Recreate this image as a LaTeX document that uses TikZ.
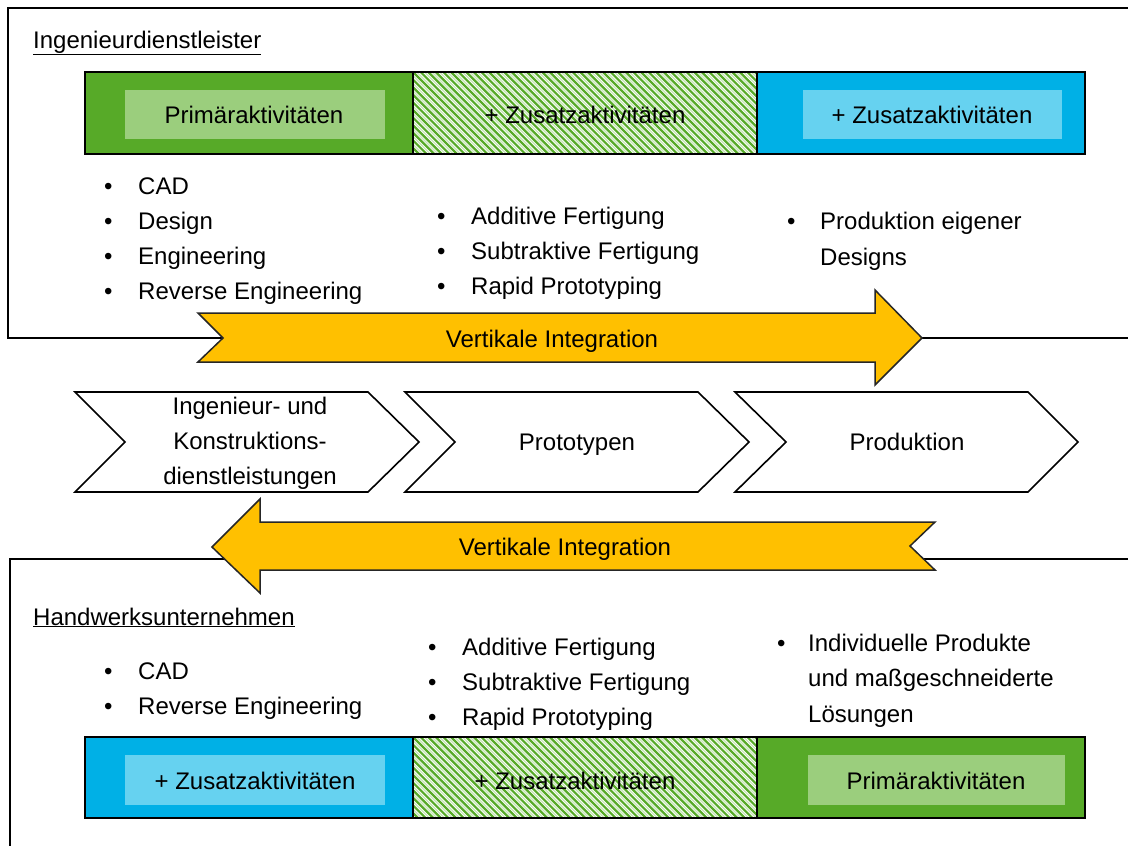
\documentclass[tikz,border=0pt]{standalone}
\usepackage{fontspec}
\setmainfont{Liberation Sans}
\definecolor{grn}{RGB}{87,170,40}
\definecolor{lgrn}{RGB}{155,206,125}
\definecolor{hgrn}{RGB}{200,230,185}
\definecolor{blu}{RGB}{0,176,230}
\definecolor{lblu}{RGB}{102,210,240}
\definecolor{gold}{RGB}{255,192,0}
\begin{document}
\begin{tikzpicture}[x=1pt,y=-1pt,
  txt/.style={inner sep=0pt,font=\fontsize{24}{35}\selectfont},
  ltxt/.style={txt,anchor=base west},
  framel/.style={line width=2pt,draw=black},
  barbox/.style={line width=2pt,draw=black},
  chev/.style={line width=1.6pt,draw=black,fill=white,line join=miter},
  bigarrow/.style={line width=1.5pt,draw=black!85,fill=gold,line join=miter},
  bul/.style={ltxt},
  hatchd/.style={grn,line width=2.2pt},
  hatchl/.style={hgrn,line width=1.2pt},
]
\useasboundingbox (0,0) rectangle (1128,846);
\fill[white] (0,0) rectangle (1128,846);
% frames
\draw[framel] (1130,8) -- (8,8) -- (8,338) -- (1130,338);
\draw[framel] (1130,559) -- (10,559) -- (10,848);
% headings
\node[ltxt] (h1) at (33,48) {\underline{Ingenieurdienstleister}};
\node[ltxt] (h2) at (33,625) {\underline{Handwerksunternehmen}};

% ---- top bar
\fill[grn] (85,72) rectangle (413,154);
\fill[lgrn] (125,90) rectangle (385,139);
\begin{scope}
  \clip (413,72) rectangle (757,154);
  \foreach \i in {-12,...,47} {
    \draw[hatchl] (413+\i*7.6+3.8,72) -- ++(82,82);
    \draw[hatchd] (413+\i*7.6,72) -- ++(82,82);
  }
\end{scope}
\fill[blu] (757,72) rectangle (1085,154);
\fill[lblu] (803,90) rectangle (1062,139);
\draw[barbox] (85,72) rectangle (1085,154);
\draw[barbox] (413,72) -- (413,154);
\draw[barbox] (757,72) -- (757,154);
\node[txt] (t1) at (254,115) {Primäraktivitäten};
\node[txt] (t2) at (585,115) {+ Zusatzaktivitäten};
\node[txt] (t3) at (932,115) {+ Zusatzaktivitäten};

% ---- top lists
\node[bul] (a1) at (104,194.5) {\makebox[34pt][l]{•}CAD};
\node[bul] (a2) at (104,229.5) {\makebox[34pt][l]{•}Design};
\node[bul] (a3) at (104,264.5) {\makebox[34pt][l]{•}Engineering};
\node[bul] (a4) at (104,299.5) {\makebox[34pt][l]{•}Reverse Engineering};
\node[bul] (b1) at (437,224.5) {\makebox[34pt][l]{•}Additive Fertigung};
\node[bul] (b2) at (437,259.5) {\makebox[34pt][l]{•}Subtraktive Fertigung};
\node[bul] (b3) at (437,294.5) {\makebox[34pt][l]{•}Rapid Prototyping};
\node[bul] (c1) at (787,229.5) {\makebox[33pt][l]{•}Produktion eigener};
\node[ltxt] (c2) at (820,265) {Designs};

% ---- upper arrow
\draw[bigarrow] (198,313) -- (875,313) -- (875,290) -- (922,338) -- (875,385)
  -- (875,362) -- (198,362) -- (223,338) -- cycle;
\node[txt] (v1) at (552,341) {Vertikale Integration};

% ---- chevrons
\draw[chev] (75,392) -- (368,392) -- (419,442) -- (368,492) -- (75,492) -- (125,442) -- cycle;
\draw[chev] (405,392) -- (698,392) -- (749,442) -- (698,492) -- (405,492) -- (455,442) -- cycle;
\draw[chev] (735,392) -- (1028,392) -- (1078,442) -- (1028,492) -- (735,492) -- (786,442) -- cycle;
\node[txt,align=center] (p1) at (250,443) {Ingenieur- und\\Konstruktions-\\dienstleistungen};
\node[txt] (p2) at (577,443) {\strut Prototypen};
\node[txt] (p3) at (907,443) {\strut Produktion};

% ---- lower arrow
\draw[bigarrow] (935,522) -- (260,522) -- (260,499) -- (212,547) -- (260,593)
  -- (260,570) -- (935,570) -- (910,546) -- cycle;
\node[txt] (v2) at (565,549) {Vertikale Integration};

% ---- bottom lists
\node[bul] (d1) at (104,679.5) {\makebox[34pt][l]{•}CAD};
\node[bul] (d2) at (104,714.5) {\makebox[34pt][l]{•}Reverse Engineering};
\node[bul] (e1) at (428,655.5) {\makebox[34pt][l]{•}Additive Fertigung};
\node[bul] (e2) at (428,690.5) {\makebox[34pt][l]{•}Subtraktive Fertigung};
\node[bul] (e3) at (428,725.5) {\makebox[34pt][l]{•}Rapid Prototyping};
\node[bul] (f1) at (777,651.5) {\makebox[31pt][l]{•}Individuelle Produkte};
\node[ltxt] (f2) at (808,686.5) {und maßgeschneiderte};
\node[ltxt] (f3) at (808,722.5) {Lösungen};

% ---- bottom bar
\fill[blu] (85,737) rectangle (413,818);
\fill[lblu] (125,755) rectangle (385,805);
\begin{scope}
  \clip (413,737) rectangle (757,818);
  \foreach \i in {-12,...,47} {
    \draw[hatchl] (413+\i*7.6+3.8,737) -- ++(81,81);
    \draw[hatchd] (413+\i*7.6,737) -- ++(81,81);
  }
\end{scope}
\fill[grn] (757,737) rectangle (1085,818);
\fill[lgrn] (808,755) rectangle (1065,805);
\draw[barbox] (85,737) rectangle (1085,818);
\draw[barbox] (413,737) -- (413,818);
\draw[barbox] (757,737) -- (757,818);
\node[txt] (g1) at (255,781) {+ Zusatzaktivitäten};
\node[txt] (g2) at (575,781) {+ Zusatzaktivitäten};
\node[txt] (g3) at (936,781) {Primäraktivitäten};
\end{tikzpicture}
\end{document}
